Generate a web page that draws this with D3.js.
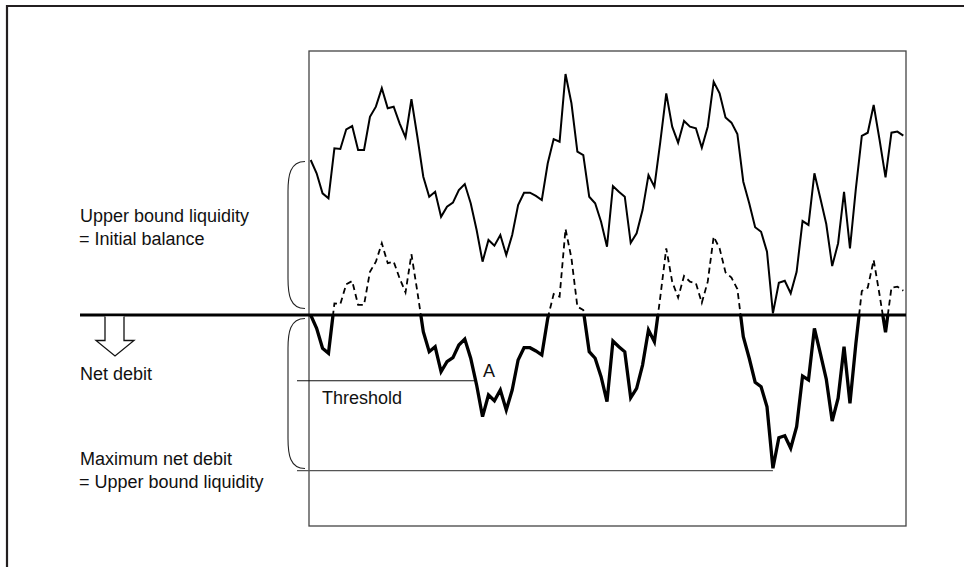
<!DOCTYPE html>
<html>
<head>
<meta charset="utf-8">
<script src="https://cdn.jsdelivr.net/npm/d3@7/dist/d3.min.js"></script>
<style>
  html, body { margin: 0; padding: 0; background: #fff; }
  svg { display: block; }
  text { font-family: "Liberation Sans", Arial, sans-serif; font-size: 18px; fill: #111; }
</style>
</head>
<body>
<script>
// Account balance over the settlement day (index = time step); first value = initial balance
const balance = [
  100, 91.4, 78.5, 75.3, 107.5, 107.1, 119.8, 121.9, 106.5, 106.5,
  127.9, 134.4, 146.3, 133.4, 134.4, 123.7, 114.6, 139.2, 115.0, 89.2,
  76.3, 79.5, 63.4, 69.9, 72.5, 80.6, 84.5, 72.1, 54.8, 34.4,
  48.4, 44.7, 51.6, 38.7, 51.6, 71.0, 78.9, 78.9, 76.8, 74.2,
  97.9, 113.5, 111.8, 155.5, 136.6, 105.4, 103.2, 76.3, 72.1, 60.2,
  44.1, 83.2, 79.5, 76.3, 46.6, 52.7, 67.7, 90.3, 82.8, 111.8,
  143.0, 121.5, 111.2, 125.2, 121.5, 120.5, 107.9, 121.5, 150.5, 143.0,
  127.5, 124.1, 116.8, 86.0, 72.1, 56.6, 53.7, 40.8, 1.1, 20.8,
  22.1, 14.0, 27.9, 60.6, 58.1, 91.4, 75.3, 58.7, 31.6, 46.3,
  79.5, 43.0, 81.7, 115.5, 117.6, 135.5, 112.9, 88.8, 117.6, 118.3,
  115.7
];
const initialBalance = balance[0];
const thresholdValue = -42.4;
const labels = {
  upper: ["Upper bound liquidity", "= Initial balance"],
  netDebit: "Net debit",
  maxDebit: ["Maximum net debit", "= Upper bound liquidity"],
  threshold: "Threshold",
  pointA: "A"
};

const W = 964, H = 567;
const svg = d3.select("body").append("svg").attr("width", W).attr("height", H);

const x = d3.scaleLinear().domain([0, balance.length - 1]).range([310.7, 903.3]);
const y = d3.scaleLinear().domain([0, 100]).range([315, 160]);

const net = balance.map(b => b - initialBalance);
const minNet = d3.min(net);
const minIdx = net.indexOf(minNet);

// outer frame (cropped)
svg.append("path")
  .attr("d", `M7,${H + 5} L7,6 L${W + 5},6`)
  .attr("fill", "none").attr("stroke", "#231f20").attr("stroke-width", 2.2);

// inner plot box
svg.append("rect")
  .attr("x", 309).attr("y", 51).attr("width", 597).attr("height", 475)
  .attr("fill", "none").attr("stroke", "#444").attr("stroke-width", 1.3);

// clip paths
const defs = svg.append("defs");
defs.append("clipPath").attr("id", "above").append("rect")
  .attr("x", 0).attr("y", 0).attr("width", W).attr("height", y(0));
defs.append("clipPath").attr("id", "below").append("rect")
  .attr("x", 0).attr("y", y(0)).attr("width", W).attr("height", H - y(0));

const line = d3.line().x((d, i) => x(i)).y(d => y(d));

// balance line
svg.append("path").datum(balance)
  .attr("d", line).attr("fill", "none").attr("stroke", "#000")
  .attr("stroke-width", 2).attr("stroke-linejoin", "miter");

// positive part of net position (dashed)
svg.append("path").datum(net)
  .attr("d", line).attr("clip-path", "url(#above)")
  .attr("fill", "none").attr("stroke", "#000")
  .attr("stroke-width", 1.8).attr("stroke-dasharray", "6,4");

// reference lines (threshold, max net debit)
svg.append("line")
  .attr("x1", 297).attr("x2", 476).attr("y1", y(thresholdValue)).attr("y2", y(thresholdValue))
  .attr("stroke", "#111").attr("stroke-width", 1.1);
svg.append("line")
  .attr("x1", 297).attr("x2", x(minIdx)).attr("y1", y(minNet) + 2.3).attr("y2", y(minNet) + 2.3)
  .attr("stroke", "#555").attr("stroke-width", 1.3);

// negative part of net position (thick)
svg.append("path").datum(net)
  .attr("d", line).attr("clip-path", "url(#below)")
  .attr("fill", "none").attr("stroke", "#000")
  .attr("stroke-width", 3.3).attr("stroke-linejoin", "miter");

// zero line
svg.append("line")
  .attr("x1", 80).attr("x2", 906).attr("y1", y(0)).attr("y2", y(0))
  .attr("stroke", "#000").attr("stroke-width", 3);

// braces
function brace(top, bottom) {
  const xr = 305, xl = 288;
  return `M${xr},${top} C${xl + 2},${top} ${xl},${top + 14} ${xl},${top + 30} ` +
         `L${xl},${bottom - 30} C${xl},${bottom - 14} ${xl + 2},${bottom} ${xr},${bottom}`;
}
svg.append("path").attr("d", brace(161.5, 308.5))
  .attr("fill", "none").attr("stroke", "#222").attr("stroke-width", 1.1);
svg.append("path").attr("d", brace(318.5, 468.5))
  .attr("fill", "none").attr("stroke", "#222").attr("stroke-width", 1.1);

// hollow down arrow
svg.append("path")
  .attr("d", "M105,316.5 L105,340.5 L96,340.5 L115,356 L134,340.5 L124,340.5 L124,316.5")
  .attr("fill", "#fff").attr("stroke", "#111").attr("stroke-width", 1.3)
  .attr("stroke-linejoin", "miter");

// texts
svg.append("text").attr("x", 80).attr("y", 222).text(labels.upper[0]);
svg.append("text").attr("x", 79).attr("y", 245).text(labels.upper[1]);
svg.append("text").attr("x", 80).attr("y", 380).text(labels.netDebit);
svg.append("text").attr("x", 80).attr("y", 465).text(labels.maxDebit[0]);
svg.append("text").attr("x", 79).attr("y", 488).text(labels.maxDebit[1]);
svg.append("text").attr("x", 322).attr("y", 404).text(labels.threshold);
svg.append("text").attr("x", 483).attr("y", 377).text(labels.pointA);
</script>
</body>
</html>
